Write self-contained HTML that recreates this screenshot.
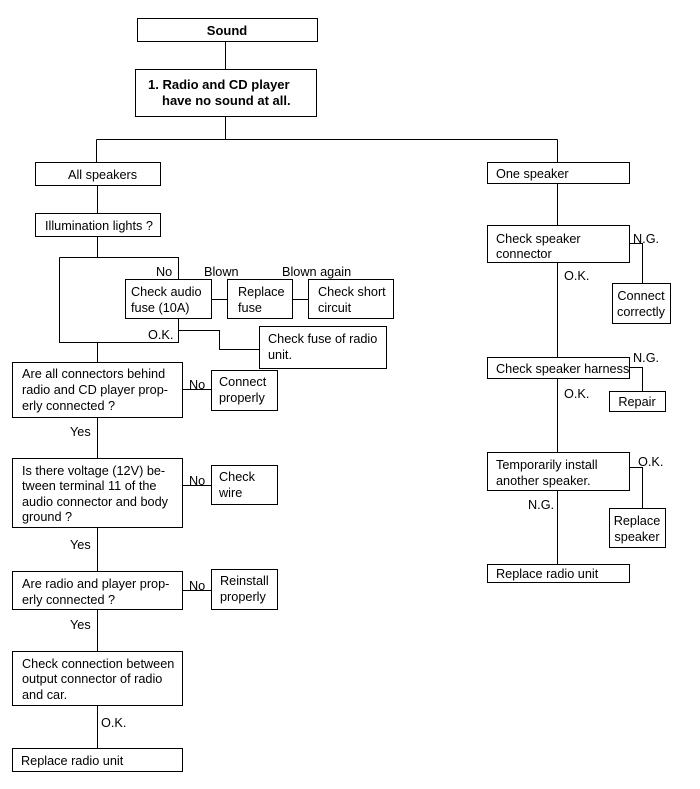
<!DOCTYPE html>
<html><head><style>
html,body{margin:0;padding:0;background:#fff;}
svg{display:block;}
text{font-family:"Liberation Sans",sans-serif;font-size:12.7px;fill:#000;}
.b{font-weight:bold;font-size:13px;}
rect{fill:#fff;stroke:#000;stroke-width:1;}
path,line{stroke:#000;stroke-width:1;fill:none;}
</style></head><body>
<svg width="700" height="789" viewBox="0 0 700 789">
<path d="M225.5 41 V69 M225.5 116 V139.5 M96.5 139.5 H557.5 M96.5 139.5 V162 M557.5 139.5 V162"/>
<path d="M97.5 185 V213 M97.5 236 V257.5 M59.5 257.5 H178.5 V279 M59.5 257.5 V342.5 H178.5 V318"/>
<path d="M211 299.5 H227 M292 299.5 H308"/>
<path d="M178.5 330.5 H219.5 V349.5 H259"/>
<path d="M97.5 342 V362 M97.5 417 V458 M97.5 527 V571 M97.5 609 V651 M97.5 705 V748"/>
<path d="M182 389.5 H211 M182 485.5 H211 M182 590.5 H211"/>
<path d="M557.5 183 V225 M557.5 262 V357 M557.5 378 V452 M557.5 491 V565"/>
<path d="M629 243.5 H642.5 V283 M629 367.5 H642.5 V391 M629 467.5 H642.5 V508"/>
<rect x="137.5" y="18.5" width="180" height="23"/>
<text x="227" y="35" text-anchor="middle" class="b">Sound</text>
<rect x="135.5" y="69.5" width="181" height="47"/>
<text x="148" y="89" class="b">1. Radio and CD player</text>
<text x="162" y="105" class="b">have no sound at all.</text>
<rect x="35.5" y="162.5" width="125" height="23"/>
<text x="68" y="179">All speakers</text>
<rect x="35.5" y="213.5" width="125" height="23"/>
<text x="45" y="230">Illumination lights ?</text>
<text x="156" y="276">No</text>
<text x="204" y="276">Blown</text>
<text x="282" y="276">Blown again</text>
<rect x="125.5" y="279.5" width="86" height="39"/>
<text x="131" y="296">Check audio</text>
<text x="131" y="312">fuse (10A)</text>
<rect x="227.5" y="279.5" width="65" height="39"/>
<text x="238" y="296">Replace</text>
<text x="238" y="312">fuse</text>
<rect x="308.5" y="279.5" width="85" height="39"/>
<text x="318" y="296">Check short</text>
<text x="318" y="312">circuit</text>
<text x="148" y="339">O.K.</text>
<rect x="259.5" y="326.5" width="127" height="42"/>
<text x="268" y="343">Check fuse of radio</text>
<text x="268" y="359">unit.</text>
<rect x="12.5" y="362.5" width="170" height="55"/>
<text x="22" y="378">Are all connectors behind</text>
<text x="22" y="394">radio and CD player prop-</text>
<text x="22" y="410">erly connected ?</text>
<text x="189" y="389">No</text>
<rect x="211.5" y="370.5" width="66" height="40"/>
<text x="219" y="386">Connect</text>
<text x="219" y="402">properly</text>
<text x="70" y="436">Yes</text>
<rect x="12.5" y="458.5" width="170" height="69"/>
<text x="22" y="475">Is there voltage (12V) be-</text>
<text x="22" y="490">tween terminal 11 of the</text>
<text x="22" y="506">audio connector and body</text>
<text x="22" y="521">ground ?</text>
<text x="189" y="485">No</text>
<rect x="211.5" y="465.5" width="66" height="39"/>
<text x="219" y="481">Check</text>
<text x="219" y="497">wire</text>
<text x="70" y="549">Yes</text>
<rect x="12.5" y="571.5" width="170" height="38"/>
<text x="22" y="588">Are radio and player prop-</text>
<text x="22" y="604">erly connected ?</text>
<text x="189" y="590">No</text>
<rect x="211.5" y="569.5" width="66" height="40"/>
<text x="220" y="585">Reinstall</text>
<text x="220" y="601">properly</text>
<text x="70" y="629">Yes</text>
<rect x="12.5" y="651.5" width="170" height="54"/>
<text x="22" y="668">Check connection between</text>
<text x="22" y="683">output connector of radio</text>
<text x="22" y="699">and car.</text>
<text x="101" y="727">O.K.</text>
<rect x="12.5" y="748.5" width="170" height="23"/>
<text x="21" y="765">Replace radio unit</text>
<rect x="487.5" y="162.5" width="142" height="21"/>
<text x="496" y="178">One speaker</text>
<rect x="487.5" y="225.5" width="142" height="37"/>
<text x="496" y="243">Check speaker</text>
<text x="496" y="258">connector</text>
<text x="633" y="243">N.G.</text>
<text x="564" y="280">O.K.</text>
<rect x="612.5" y="283.5" width="58" height="40"/>
<text x="641" y="300" text-anchor="middle">Connect</text>
<text x="641" y="316" text-anchor="middle">correctly</text>
<rect x="487.5" y="357.5" width="142" height="21"/>
<text x="496" y="373">Check speaker harness</text>
<text x="633" y="362">N.G.</text>
<text x="564" y="398">O.K.</text>
<rect x="609.5" y="391.5" width="56" height="20"/>
<text x="637" y="406" text-anchor="middle">Repair</text>
<rect x="487.5" y="452.5" width="142" height="38"/>
<text x="496" y="469">Temporarily install</text>
<text x="496" y="485">another speaker.</text>
<text x="638" y="466">O.K.</text>
<text x="528" y="509">N.G.</text>
<rect x="609.5" y="508.5" width="56" height="39"/>
<text x="637" y="525" text-anchor="middle">Replace</text>
<text x="637" y="541" text-anchor="middle">speaker</text>
<rect x="487.5" y="564.5" width="142" height="18"/>
<text x="496" y="578">Replace radio unit</text>
</svg>
</body></html>
